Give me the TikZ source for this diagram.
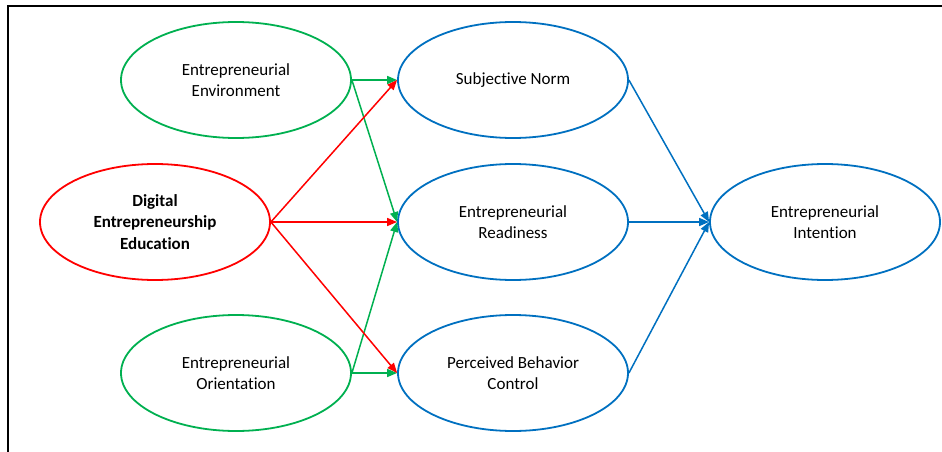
\documentclass[tikz,border=0pt]{standalone}
\usepackage{fontspec}
\setmainfont{Carlito}[RawFeature=-liga]
\usetikzlibrary{shapes.geometric,arrows.meta}
\definecolor{cgreen}{RGB}{0,176,80}
\definecolor{cred}{RGB}{255,0,0}
\definecolor{cblue}{RGB}{0,112,192}
\tikzset{
  ell/.style={ellipse, draw, line width=1.8pt, minimum width=230pt, minimum height=116pt, inner sep=0pt,
    align=center, font=\fontsize{17pt}{21.5pt}\selectfont},
  arr/.style={line width=1.5pt, -{Triangle[length=10pt,width=8pt]}},
}
\begin{document}
\begin{tikzpicture}[x=1pt,y=-1pt]
\useasboundingbox (0,0) rectangle (942,452);
\draw[line width=1.5pt] (8,452) -- (8,6) -- (942,6);
\node[ell, draw=cgreen] (env) at (236,80) {Entrepreneurial\\Environment};
\node[ell, draw=cred] (dee) at (155,222) {\textbf{Digital}\\\textbf{Entrepreneurship}\\\textbf{Education}};
\node[ell, draw=cgreen] (ori) at (236,373) {Entrepreneurial\\Orientation};
\node[ell, draw=cblue] (sn) at (513,80) {Subjective Norm};
\node[ell, draw=cblue] (er) at (513,222) {Entrepreneurial\\Readiness};
\node[ell, draw=cblue] (pbc) at (513,373) {Perceived Behavior\\Control};
\node[ell, draw=cblue] (ei) at (825,222) {Entrepreneurial\\Intention};
\draw[arr, cgreen] (env.east) -- (sn.west);
\draw[arr, cgreen] (env.east) -- (er.west);
\draw[arr, cgreen] (ori.east) -- (er.west);
\draw[arr, cgreen] (ori.east) -- (pbc.west);
\draw[arr, cred] (dee.east) -- (sn.west);
\draw[arr, cred] (dee.east) -- (er.west);
\draw[arr, cred] (dee.east) -- (pbc.west);
\draw[arr, cblue] (sn.east) -- (ei.west);
\draw[arr, cblue] (er.east) -- (ei.west);
\draw[arr, cblue] (pbc.east) -- (ei.west);
\end{tikzpicture}
\end{document}
